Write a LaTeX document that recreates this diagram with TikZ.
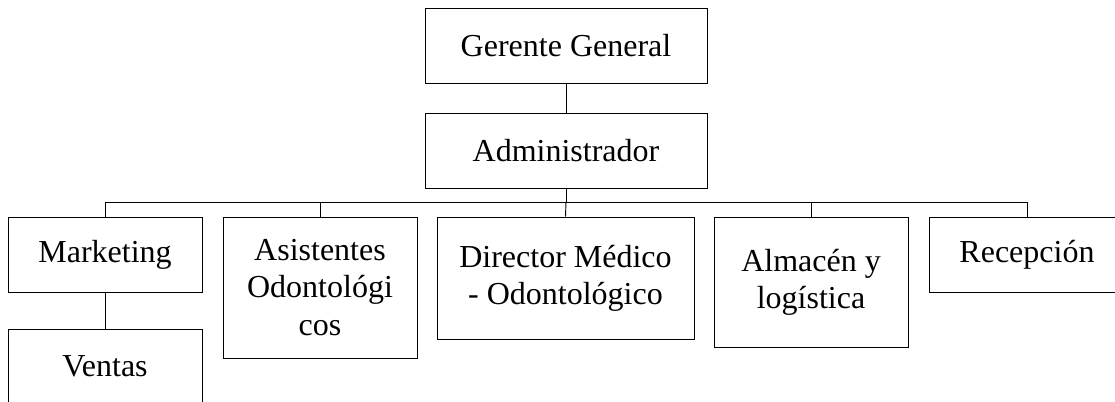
\documentclass[tikz,border=0pt]{standalone}
\usepackage{fontspec}
\setmainfont{Liberation Serif}
\usepackage{tikz}
\usetikzlibrary{positioning}

\begin{document}
\begin{tikzpicture}[x=0.75pt,y=-0.75pt,
  orgbox/.style={draw, line width=0.7pt, rectangle, align=center, inner sep=2pt,
    font=\fontsize{24pt}{28pt}\selectfont},
  link/.style={line width=0.7pt}]
\useasboundingbox (0,0) rectangle (1115,401);

% Draw top levels
\node[orgbox, minimum width=211.5pt, minimum height=56.25pt] (gerente) at (566,45.5) {Gerente General};
\node[orgbox, minimum width=211.5pt, minimum height=56.25pt] (admin) at (566,150.5) {Administrador};

% Draw departments
\node[orgbox, minimum width=145.5pt, minimum height=56.25pt] (marketing) at (105,254.5) {Marketing};
\node[orgbox, minimum width=145.5pt, minimum height=56.25pt] (ventas) at (105,366.5) {Ventas};
\node[orgbox, minimum width=145.5pt, minimum height=105.75pt] (asistentes) at (320,287.5) {Asistentes\\Odontológi\\cos};
\node[orgbox, minimum width=192.75pt, minimum height=91.5pt] (director) at (565.5,278) {Director Médico\\- Odontológico};
\node[orgbox, minimum width=145.5pt, minimum height=97.5pt] (almacen) at (811,282) {Almacén y\\logística};
\node[orgbox, minimum width=147pt, minimum height=56.25pt] (recepcion) at (1027,254.5) {Recepción};

% Draw connectors
\coordinate (bus) at (566,202);
\draw[link] (gerente) -- (admin);
\draw[link] (admin) -- (bus);
\draw[link] (marketing.north) |- (bus);
\draw[link] (asistentes.north) |- (bus);
\draw[link] (director.north) -- (bus);
\draw[link] (almacen.north) |- (bus);
\draw[link] (recepcion.north) |- (bus);
\draw[link] (marketing) -- (ventas);

\end{tikzpicture}
\end{document}
